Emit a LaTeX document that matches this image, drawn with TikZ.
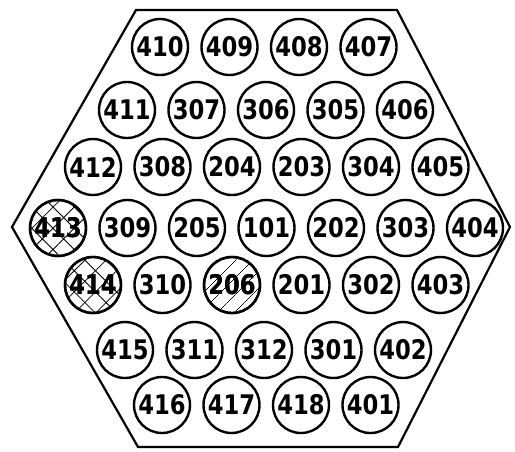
\documentclass[tikz,border=0pt]{standalone}
\usepackage{fontspec}
\setmainfont{DejaVu Sans}
\usetikzlibrary{patterns.meta}

\newcommand{\cellnum}[1]{\scalebox{0.84}[1]{#1}}

\tikzset{
  cell/.style={draw, circle, line width=2.4pt, minimum size=56pt, inner sep=0pt,
    font=\fontsize{27}{27}\selectfont\bfseries},
  crossed/.style={pattern={Hatch[angle=45,distance=15pt,line width=0.8pt]}},
  striped/.style={pattern={Lines[angle=45,distance=13pt,line width=0.5pt]}}
}

\begin{document}
\begin{tikzpicture}[x=1pt,y=-1pt]
\useasboundingbox (0,0) rectangle (515,451);
% core outline
\draw[line width=2.2pt, line join=miter] (136,10)--(397,10)--(510,227)--(398,447)--(138,447)--(12,227)--cycle;
% fuel elements, row by row: start x / y / labels
\foreach \xs/\ys/\row in {160/47/{410,409,408,407},
                          127/110/{411,307,306,305,406},
                          93/167/{412,308,204,203,304,405},
                          58/228/{413,309,205,101,202,303,404},
                          93/285/{414,310,206,201,302,403},
                          125/350/{415,311,312,301,402},
                          162/405/{416,417,418,401}}{
  \foreach \lab [count=\i from 0] in \row{
    \node[cell] (c\lab) at ({\xs+69.5*\i},\ys) {\cellnum{\lab}};
  }
}
% irradiated positions
\node[cell, crossed] (h413) at (c413) {\cellnum{413}};
\node[cell, crossed] (h414) at (c414) {\cellnum{414}};
\node[cell, striped] (h206) at (c206) {\cellnum{206}};
\end{tikzpicture}
\end{document}
